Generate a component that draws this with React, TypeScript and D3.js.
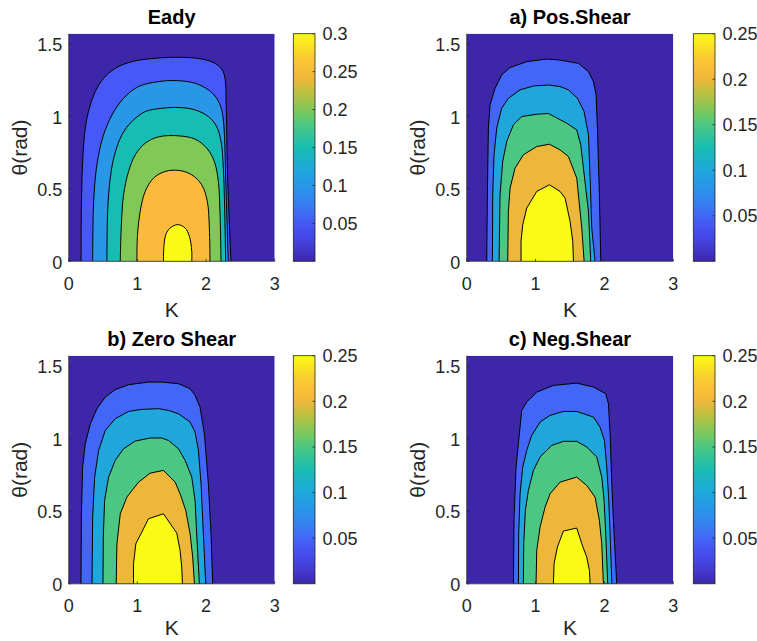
import React from "react";
import * as d3 from "d3";

type Pt = [number, number];

// Axis ticks
const kTicks = [0, 1, 2, 3];
const thetaTicks = [0, 0.5, 1, 1.5];
const cbarTicksEady = [0.05, 0.1, 0.15, 0.2, 0.25, 0.3];
const cbarTicksShear = [0.05, 0.1, 0.15, 0.2, 0.25];

// Contour levels of the growth rate
const levelsEady = [0.05, 0.1, 0.15, 0.2, 0.25, 0.3];
const levelsShear = [0.05, 0.1, 0.15, 0.2, 0.25];

// Eady: contour lines as [K, theta] points
const eady05: Pt[] = [[0.18,0],[0.184,0.344],[0.203,0.689],[0.242,0.919],[0.3,1.056],[0.387,1.171],[0.508,1.263],[0.678,1.332],[0.92,1.378],[1.259,1.401],[1.646,1.408],[1.937,1.396],[2.131,1.366],[2.237,1.32],[2.276,1.263],[2.295,1.033],[2.315,0.574],[2.363,0]];
const eady10: Pt[] = [[0.349,0],[0.358,0.344],[0.387,0.574],[0.436,0.735],[0.508,0.873],[0.63,1.01],[0.799,1.125],[1.017,1.206],[1.308,1.24],[1.574,1.247],[1.84,1.229],[2.034,1.183],[2.155,1.125],[2.228,1.045],[2.262,0.919],[2.286,0.574],[2.324,0]];
const eady15: Pt[] = [[0.557,0],[0.567,0.344],[0.605,0.574],[0.668,0.735],[0.775,0.873],[0.92,0.965],[1.114,1.033],[1.356,1.056],[1.622,1.061],[1.84,1.045],[2.034,0.999],[2.155,0.93],[2.218,0.827],[2.252,0.643],[2.286,0]];
const eady20: Pt[] = [[0.751,0],[0.765,0.23],[0.799,0.459],[0.872,0.62],[0.969,0.735],[1.114,0.815],[1.308,0.859],[1.598,0.866],[1.84,0.843],[2.01,0.781],[2.121,0.689],[2.179,0.551],[2.203,0.344],[2.218,0]];
const eady25: Pt[] = [[0.993,0],[1.002,0.184],[1.041,0.344],[1.114,0.482],[1.235,0.574],[1.404,0.62],[1.608,0.627],[1.792,0.597],[1.937,0.528],[2.019,0.413],[2.048,0.23],[2.058,0]];
const eady30: Pt[] = [[1.38,0],[1.385,0.092],[1.414,0.184],[1.477,0.23],[1.588,0.253],[1.695,0.23],[1.758,0.172],[1.792,0.069],[1.792,0]];

// a) Pos.Shear
const pos05: Pt[] = [[0.291,0],[0.3,0.459],[0.315,0.919],[0.339,1.079],[0.412,1.194],[0.508,1.286],[0.63,1.337],[0.872,1.378],[1.162,1.396],[1.356,1.389],[1.622,1.366],[1.768,1.309],[1.84,1.24],[1.879,1.148],[1.898,0.919],[1.927,0.459],[1.947,0]];
const pos10: Pt[] = [[0.373,0],[0.378,0.459],[0.397,0.735],[0.436,0.919],[0.508,1.056],[0.605,1.125],[0.775,1.183],[0.969,1.21],[1.186,1.217],[1.356,1.206],[1.477,1.183],[1.608,1.125],[1.705,1.033],[1.768,0.873],[1.792,0.574],[1.816,0.23],[1.864,0]];
const pos15: Pt[] = [[0.47,0],[0.484,0.459],[0.523,0.689],[0.581,0.827],[0.678,0.942],[0.799,0.999],[1.017,1.015],[1.186,1.02],[1.453,0.953],[1.598,0.907],[1.656,0.804],[1.695,0.643],[1.768,0.344],[1.801,0]];
const pos20: Pt[] = [[0.596,0],[0.605,0.344],[0.63,0.505],[0.702,0.643],[0.823,0.735],[1.017,0.792],[1.201,0.808],[1.356,0.769],[1.477,0.723],[1.598,0.574],[1.632,0.413],[1.671,0.23],[1.705,0]];
const pos25: Pt[] = [[0.789,0],[0.789,0.138],[0.814,0.253],[0.872,0.367],[1.017,0.482],[1.201,0.528],[1.356,0.482],[1.429,0.436],[1.501,0.276],[1.54,0.138],[1.55,0]];

// b) Zero Shear
const zero05: Pt[] = [[0.179,0],[0.184,0.459],[0.203,0.804],[0.242,0.965],[0.315,1.102],[0.412,1.206],[0.533,1.286],[0.678,1.337],[0.872,1.371],[1.162,1.389],[1.356,1.389],[1.598,1.378],[1.768,1.343],[1.84,1.298],[1.913,1.217],[1.976,1.033],[2.034,0.689],[2.073,0.344],[2.097,0]];
const zero10: Pt[] = [[0.339,0],[0.349,0.459],[0.378,0.735],[0.436,0.919],[0.533,1.056],[0.678,1.137],[0.872,1.187],[1.065,1.201],[1.308,1.206],[1.453,1.194],[1.598,1.171],[1.768,1.114],[1.84,1.045],[1.889,0.919],[1.927,0.689],[1.961,0.344],[1.995,0]];
const zero15: Pt[] = [[0.499,0],[0.504,0.322],[0.523,0.574],[0.581,0.735],[0.678,0.85],[0.799,0.93],[0.969,0.983],[1.186,1.004],[1.356,1.004],[1.453,0.987],[1.598,0.93],[1.695,0.85],[1.792,0.735],[1.84,0.574],[1.864,0.344],[1.903,0]];
const zero20: Pt[] = [[0.692,0],[0.702,0.276],[0.751,0.482],[0.847,0.597],[1.017,0.7],[1.186,0.762],[1.38,0.781],[1.55,0.7],[1.622,0.62],[1.705,0.505],[1.768,0.344],[1.806,0.184],[1.831,0]];
const zero25: Pt[] = [[0.944,0],[0.944,0.138],[0.978,0.276],[1.065,0.356],[1.162,0.448],[1.38,0.482],[1.574,0.349],[1.622,0.23],[1.646,0.115],[1.656,0]];

// c) Neg.Shear
const neg05: Pt[] = [[0.678,0],[0.688,0.459],[0.717,0.804],[0.765,1.033],[0.799,1.194],[0.872,1.252],[1.017,1.32],[1.259,1.366],[1.598,1.382],[1.84,1.355],[2.019,1.309],[2.058,1.24],[2.082,1.033],[2.107,0.689],[2.14,0.344],[2.179,0]];
const neg10: Pt[] = [[0.751,0],[0.755,0.344],[0.775,0.62],[0.814,0.804],[0.872,0.919],[0.944,1.022],[1.065,1.114],[1.211,1.16],[1.404,1.187],[1.598,1.187],[1.84,1.148],[1.937,1.079],[2.0,0.987],[2.034,0.804],[2.063,0.574],[2.082,0.344],[2.107,0]];
const neg15: Pt[] = [[0.823,0],[0.828,0.276],[0.852,0.505],[0.896,0.643],[0.969,0.781],[1.065,0.873],[1.235,0.953],[1.404,0.981],[1.598,0.981],[1.743,0.942],[1.889,0.873],[1.961,0.735],[1.995,0.574],[2.019,0.344],[2.048,0]];
const neg20: Pt[] = [[1.007,0],[1.017,0.23],[1.065,0.39],[1.138,0.528],[1.211,0.62],[1.356,0.7],[1.598,0.735],[1.743,0.677],[1.864,0.597],[1.927,0.436],[1.961,0.276],[1.985,0]];
const neg25: Pt[] = [[1.259,0],[1.269,0.138],[1.317,0.253],[1.404,0.363],[1.598,0.384],[1.671,0.276],[1.743,0.184],[1.782,0.092],[1.792,0]];

// Parula-like colour map
const parulaStops = [0, 0.083, 0.167, 0.2, 0.27, 0.333, 0.4, 0.5, 0.6, 0.667, 0.75, 0.8, 0.833, 0.9, 1];
const parulaColors = ["#3e26a8", "#4440e0", "#4658f5", "#4267f7", "#3386f0", "#2996e8", "#1fa7dc", "#17bdb2", "#4cc783", "#81c957", "#c4bf3e", "#edb73a", "#fbba3c", "#fbcc32", "#f9fb15"];
const parula = d3.scaleLinear<string>().domain(parulaStops).range(parulaColors).interpolate(d3.interpolateRgb).clamp(true);

interface PanelSpec {
  id: string;
  title: string;
  cmax: number;
  levels: number[];
  contours: Pt[][];
  cbarTicks: number[];
  smooth: boolean;
  left: number;
  right: number;
  top: number;
  bottom: number;
  cbLeft: number;
}

const FONT = "'Liberation Sans', Arial, Helvetica, sans-serif";
const AXIS = "#262626";
const HEIGHT = 641;

const panels: PanelSpec[] = [
  { id: "eady", title: "Eady", cmax: 0.3, levels: levelsEady, contours: [eady05, eady10, eady15, eady20, eady25, eady30], cbarTicks: cbarTicksEady, smooth: true, left: 68.7, right: 274.7, top: 33.7, bottom: 261.3, cbLeft: 293.3 },
  { id: "pos", title: "a) Pos.Shear", cmax: 0.25, levels: levelsShear, contours: [pos05, pos10, pos15, pos20, pos25], cbarTicks: cbarTicksShear, smooth: false, left: 466.7, right: 673.3, top: 33.7, bottom: 261.3, cbLeft: 693.3 },
  { id: "zero", title: "b) Zero Shear", cmax: 0.25, levels: levelsShear, contours: [zero05, zero10, zero15, zero20, zero25], cbarTicks: cbarTicksShear, smooth: false, left: 68.7, right: 274.7, top: 355.7, bottom: 583.8, cbLeft: 293.3 },
  { id: "neg", title: "c) Neg.Shear", cmax: 0.25, levels: levelsShear, contours: [neg05, neg10, neg15, neg20, neg25], cbarTicks: cbarTicksShear, smooth: false, left: 466.7, right: 673.3, top: 355.7, bottom: 583.8, cbLeft: 693.3 },
];

function Panel({ p }: { p: PanelSpec }) {
  const x = d3.scaleLinear().domain([0, 3]).range([p.left, p.right]);
  const y = d3.scaleLinear().domain([0, Math.PI / 2]).range([p.bottom, p.top]);
  const c = d3.scaleLinear().domain([0, p.cmax]).range([p.bottom, p.top]);
  const line = d3
    .line<Pt>()
    .x((d) => x(d[0]))
    .y((d) => y(d[1]))
    .curve(p.smooth ? d3.curveCatmullRom.alpha(0.5) : d3.curveLinear);
  const cbW = 21.7;
  const cbRight = p.cbLeft + cbW;
  const gradStops = d3.range(0, 1.0001, 0.05);
  const cx = (p.left + p.right) / 2;
  const cy = (p.top + p.bottom) / 2;
  const tick = 18;
  // keep the K label inside the canvas on the lower row
  const kLabelY = Math.min(p.bottom + 55.3, HEIGHT - 6);

  return (
    <g>
      <defs>
        <linearGradient id={`grad-${p.id}`} x1="0" y1="1" x2="0" y2="0">
          {gradStops.map((t) => (
            <stop key={t} offset={t} stopColor={parula(t)} />
          ))}
        </linearGradient>
        <clipPath id={`clip-${p.id}`}>
          <rect x={p.left} y={p.top} width={p.right - p.left} height={p.bottom - p.top} />
        </clipPath>
      </defs>

      {/* filled contours */}
      <g clipPath={`url(#clip-${p.id})`}>
        <rect x={p.left} y={p.top} width={p.right - p.left} height={p.bottom - p.top} fill={parula(0)} />
        {p.contours.map((pts, i) => (
          <path key={`f${i}`} d={(line(pts) || "") + "Z"} fill={parula(p.levels[i] / p.cmax)} stroke="none" />
        ))}
        {p.contours.map((pts, i) => (
          <path key={`s${i}`} d={line(pts) || ""} fill="none" stroke="#000" strokeWidth={1} />
        ))}
      </g>

      {/* axes */}
      <line x1={p.left} x2={p.right} y1={p.bottom} y2={p.bottom} stroke={AXIS} strokeWidth={0.8} />
      <line x1={p.left} x2={p.left} y1={p.top} y2={p.bottom} stroke={AXIS} strokeWidth={0.8} />
      {kTicks.map((k) => (
        <g key={`kt${k}`}>
          <line x1={x(k)} x2={x(k)} y1={p.bottom} y2={p.bottom - 2.5} stroke={AXIS} strokeWidth={0.8} />
          <text x={x(k)} y={p.bottom + 28.5} textAnchor="middle" fontSize={tick} fontFamily={FONT} fill={AXIS}>
            {k}
          </text>
        </g>
      ))}
      {thetaTicks.map((t) => (
        <g key={`tt${t}`}>
          <line x1={p.left} x2={p.left + 2.5} y1={y(t)} y2={y(t)} stroke={AXIS} strokeWidth={0.8} />
          <text x={p.left - 6.5} y={y(t) + 7.3} textAnchor="end" fontSize={tick} fontFamily={FONT} fill={AXIS}>
            {t}
          </text>
        </g>
      ))}
      <text x={cx} y={kLabelY} textAnchor="middle" fontSize={21} fontFamily={FONT} fill={AXIS}>
        K
      </text>
      <text
        transform={`translate(${p.left - 41.5},${cy}) rotate(-90)`}
        textAnchor="middle"
        fontSize={21}
        fontFamily={FONT}
        fill={AXIS}
      >
        θ(rad)
      </text>
      <text x={cx} y={p.top - 9.7} textAnchor="middle" fontSize={20} fontWeight="bold" fontFamily={FONT} fill="#000">
        {p.title}
      </text>

      {/* colour bar */}
      <rect x={p.cbLeft} y={p.top} width={cbW} height={p.bottom - p.top} fill={`url(#grad-${p.id})`} stroke={AXIS} strokeWidth={0.8} />
      {p.cbarTicks.map((v) => (
        <g key={`cb${v}`}>
          <line x1={cbRight} x2={cbRight - 2.5} y1={c(v)} y2={c(v)} stroke={AXIS} strokeWidth={0.8} />
          <text x={cbRight + 7.5} y={c(v) + 6.5} textAnchor="start" fontSize={tick} fontFamily={FONT} fill={AXIS}>
            {v}
          </text>
        </g>
      ))}
    </g>
  );
}

export default function App() {
  return (
    <svg
      width={757}
      height={HEIGHT}
      viewBox={`0 0 757 ${HEIGHT}`}
      style={{ position: "absolute", left: 0, top: 0, background: "#fff" }}
    >
      <rect x={0} y={0} width={757} height={HEIGHT} fill="#fff" />
      {panels.map((p) => (
        <Panel key={p.id} p={p} />
      ))}
    </svg>
  );
}
